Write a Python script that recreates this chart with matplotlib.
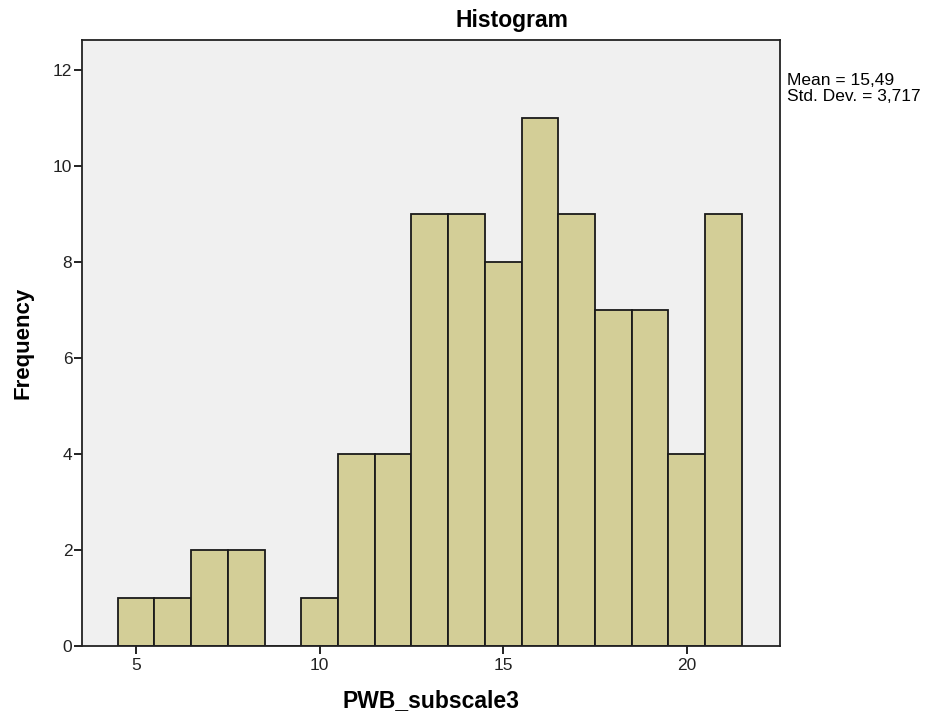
import matplotlib
matplotlib.use('Agg')
import matplotlib.pyplot as plt

# Bin centres and counts
bin_centres = [5, 6, 7, 8, 9, 10, 11, 12, 13, 14, 15, 16, 17, 18, 19, 20, 21]
counts = [1, 1, 2, 2, 0, 1, 4, 4, 9, 9, 8, 11, 9, 7, 7, 4, 9]
x_ticks = [5, 10, 15, 20]
y_ticks = [0, 2, 4, 6, 8, 10, 12]
stats_text = "Mean = 15,49\nStd. Dev. = 3,717"

plt.rcParams['font.family'] = ['Liberation Sans', 'DejaVu Sans']

fig = plt.figure(figsize=(9.44, 7.16), dpi=100)
ax = fig.add_axes([0.0869, 0.0978, 0.7391, 0.8463])
ax.set_facecolor('#F0F0F0')

ax.bar(bin_centres, counts, width=1.0, color='#D3CE97',
       edgecolor='#1a1a1a', linewidth=1.3)

ax.set_xlim(3.53, 22.53)
ax.set_ylim(0, 12.63)
ax.set_xticks(x_ticks)
ax.set_yticks(y_ticks)
ax.tick_params(direction='out', length=6, width=1.4, labelsize=12.5, colors='#222222')
ax.tick_params(axis='y', pad=1)
ax.tick_params(axis='x', pad=3)
for s in ax.spines.values():
    s.set_linewidth(1.3)
    s.set_color('#222222')

ax.set_xlabel('PWB_subscale3', fontsize=16.5, fontweight='bold', labelpad=11)
ax.set_ylabel('Frequency', fontsize=16, fontweight='bold', labelpad=14)

# SPSS puts the title slightly right of the axes centre
fig.text(0.542, 0.972, 'Histogram', fontsize=16.5, fontweight='bold',
         ha='center', va='center')

fig.text(0.834, 0.898, stats_text, fontsize=12.5, va='top', ha='left',
         linespacing=1.05)

fig.savefig('out.png', dpi=100)
